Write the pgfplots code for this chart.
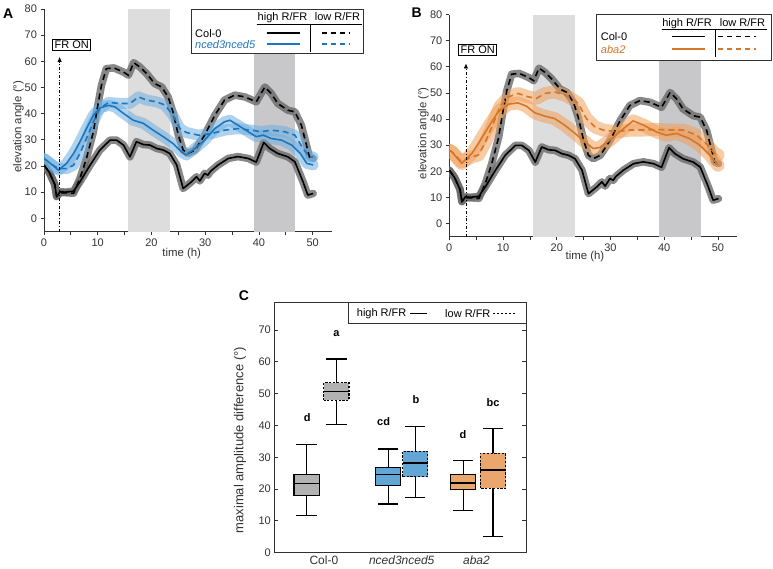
\documentclass[border=0pt]{standalone}
\usepackage{fontspec}
\setmainfont{Liberation Sans}
\usepackage{pgfplots}
\usepackage{pgfplotstable}
\pgfplotsset{compat=1.18}
\usepgfplotslibrary{statistics}
\usetikzlibrary{arrows.meta}
\definecolor{nblue}{RGB}{30,118,188}
\definecolor{nbandc}{RGB}{110,175,225}
\definecolor{aorange}{RGB}{214,118,40}
\definecolor{abandc}{RGB}{240,160,90}
\definecolor{lightband}{RGB}{221,221,221}
\definecolor{darkband}{RGB}{200,199,201}
\definecolor{boxgray}{RGB}{178,178,178}
\definecolor{boxblue}{RGB}{98,166,214}
\definecolor{boxorange}{RGB}{234,166,108}
\definecolor{axgray}{RGB}{50,50,50}

\pgfplotstableread{
t v
0 20.4
1 17.5
2 13
2.35 8.3
3 10.2
4 10
5.5 10.4
6.7 14
8.6 20.4
10.4 26.1
12.3 29.9
13.5 29.9
14.8 28
16 23.5
17.2 29.3
18.5 28.2
19.7 28
21 26.7
22.2 26.1
23.4 24.8
24.7 20.4
25.9 11.4
27.4 13.9
28.4 15.9
29 14.3
29.9 17.2
30.5 16.5
31 18
32.4 20.4
34.3 22.9
36.1 23.6
38 22.9
39.5 21.5
40.9 29
42 26.7
43.5 24.8
45.4 23.5
46.7 21.6
48.2 14
49.1 8.9
50.1 9.5
}\colhigh

\pgfplotstableread{
t v
0 20.4
1 17.5
2 13
2.35 8.5
3 9.8
4 9.8
5.5 9.6
6.7 15.3
7.9 22.9
9.2 33.1
9.8 40.7
10.7 50.9
11.6 57.2
13 57.5
14.8 55.9
15.7 54.7
16.7 59.5
17.8 57.9
19.1 55.3
20.6 51.5
21.9 50.2
23.1 46.4
24 40.7
25 31.8
25.9 26.1
26.8 24.8
28.1 26.1
29.9 31.8
31.8 39.4
33.6 45.2
35.5 47.1
37.4 46.4
39.5 44.5
41.1 50.2
42.3 47.7
43.5 43.9
45.4 41.3
46.7 40.7
47.9 35.6
49.4 23.5
50.1 22.9
}\collow

\pgfplotstableread{
t v
0 22.9
1.5 20.5
2.7 18.4
4.2 21
5.5 24.8
6.7 29.3
7.9 34.3
9.2 39.4
10.4 42.2
12 43.2
13.2 42.6
14.8 40.1
16.6 37.5
18.5 36.3
20.3 33.7
22.2 31.2
24 28.6
25.6 25.4
26.5 24.2
28.1 26.7
29.9 29.9
31.8 34.3
33.6 36.9
34.6 37.5
36.1 35.6
38 33.1
39.5 31.2
40.8 31.8
42.3 30.5
44.2 29.9
46.1 28
47.7 24.8
48.9 21
50.1 20.4
}\ncedhigh

\pgfplotstableread{
t v
0 22.9
1.5 20.5
2.7 19
4.2 19
5.5 20.3
6.7 24.8
7.9 30.5
9.2 36.9
10.4 42
12 44.3
14.1 43.9
16 43.9
17.6 46.4
19.1 45.2
21 44.5
22.5 43.3
24 39.4
25.3 34.3
26.5 32.8
28.7 31.8
31.2 32.4
33.6 33.7
36.1 34.3
38.6 33.7
40.4 33.1
42.3 33.7
44.8 33.1
46.7 31.8
48.2 26.7
49.4 23.5
50.1 23.5
}\ncedlow

\pgfplotstableread{
t v
0 28
0.44 27.5
2.3 23
4.2 26.8
5.4 30.6
7.3 37
9.1 42.8
11 45.7
12.8 46.2
14.4 44.9
15.9 42.4
17.8 41.1
19.6 40.2
21.5 37.6
23.4 34.5
25.2 31.3
26.8 28.7
28 29.1
29.9 31.9
31.7 35.1
34.2 39.3
36.1 37.7
38.5 35.1
40.4 33.8
42.3 34.5
44.7 32.5
46.6 30
48.5 26.2
50 22.3
}\abahigh

\pgfplotstableread{
t v
0 28
0.44 27.5
2.3 23.6
4.2 25.5
5.4 26.2
6.6 30.6
8.2 38.3
9.4 44.7
11 48.5
12.8 49.8
14.7 48.5
16.2 47.9
17.8 49.8
19.6 50.4
21.5 49.2
22.7 47.9
24 46
25.5 40.2
27.1 37
28.6 35.8
31.1 35.1
33.6 35.8
36.1 35.8
38.5 36
41 35.8
43.5 35.8
46 33.9
47.8 30.6
49.4 26.8
50 26.2
}\abalow

\pgfplotsset{
  timeaxis/.style={
    scale only axis, width=288pt,
    xmin=0, xmax=53.6, ymin=-5.1, ymax=80,
    axis x line*=bottom, axis y line*=left,
    axis line style={line width=0.8pt, axgray, -},
    xtick={0,10,...,50}, minor xtick={5,15,...,45},
    ytick={0,10,...,80},
    tick align=outside, major tick length=3.5pt, minor tick length=3.5pt,
    major tick style={line width=0.8pt, axgray},
    minor tick style={line width=0.8pt, axgray},
    tick label style={font=\fontsize{11}{13}\selectfont, text=axgray},
    /pgf/number format/assume math mode=true,
    xlabel={time (h)}, ylabel={elevation angle (°)},
  },
  bandk/.style={line width=7.5pt, black!60, opacity=0.78, line join=round, line cap=round},
  bandb/.style={line width=11pt, nbandc, opacity=0.55, line join=round, line cap=round},
  bando/.style={line width=13pt, abandc, opacity=0.55, line join=round, line cap=round},
  dsh/.style={dash pattern=on 6pt off 4pt},
}

\begin{document}
\begin{tikzpicture}
\path[use as bounding box] (0pt,0pt) rectangle (773pt,-569pt);

% ---------------- Panel A
\begin{axis}[timeaxis, at={(44pt,-231.7pt)}, anchor=south west, height=222.7pt,
  ylabel style={at={(axis description cs:-0.0892,0.471)}, anchor=center, font=\fontsize{11.4}{13}\selectfont, text=axgray},
  xlabel style={at={(axis description cs:0.478,-0.097)}, anchor=center, font=\fontsize{11.4}{13}\selectfont, text=axgray}]
\addplot[draw=none, fill=lightband] coordinates {(15.7,-5.1) (23.4,-5.1) (23.4,80) (15.7,80)} -- cycle;
\addplot[draw=none, fill=darkband] coordinates {(39,-5.1) (46.8,-5.1) (46.8,80) (39,80)} -- cycle;
\addplot[bandk] table[x=t,y=v] {\colhigh};
\addplot[bandk] table[x=t,y=v] {\collow};
\addplot[bandb] table[x=t,y=v] {\ncedhigh};
\addplot[bandb] table[x=t,y=v] {\ncedlow};
\addplot[black, line width=1.6pt, line join=round] table[x=t,y=v] {\colhigh};
\addplot[black, line width=1.6pt, dsh] table[x=t,y=v] {\collow};
\addplot[nblue, line width=1.6pt, line join=round] table[x=t,y=v] {\ncedhigh};
\addplot[nblue, line width=1.6pt, dsh] table[x=t,y=v] {\ncedlow};
\draw[line width=0.7pt, dash dot, -{Latex[length=5pt,width=4.5pt]}] (axis cs:2.9,-5.1) -- (axis cs:2.9,61.7);
\end{axis}

% ---------------- Panel B
\begin{axis}[timeaxis, at={(449.3pt,-236.7pt)}, anchor=south west, height=222pt,
  ylabel style={at={(axis description cs:-0.090,0.466)}, anchor=center, font=\fontsize{11.4}{13}\selectfont, text=axgray},
  xlabel style={at={(axis description cs:0.471,-0.09)}, anchor=center, font=\fontsize{11.4}{13}\selectfont, text=axgray}]
\addplot[draw=none, fill=lightband] coordinates {(15.6,-5.1) (23.4,-5.1) (23.4,80) (15.6,80)} -- cycle;
\addplot[draw=none, fill=darkband] coordinates {(39,-5.1) (46.8,-5.1) (46.8,80) (39,80)} -- cycle;
\addplot[bandk] table[x=t,y=v] {\colhigh};
\addplot[bandk] table[x=t,y=v] {\collow};
\addplot[bando] table[x=t,y=v] {\abahigh};
\addplot[bando] table[x=t,y=v] {\abalow};
\addplot[black, line width=1.6pt, line join=round] table[x=t,y=v] {\colhigh};
\addplot[black, line width=1.6pt, dsh] table[x=t,y=v] {\collow};
\addplot[aorange, line width=1.6pt, line join=round] table[x=t,y=v] {\abahigh};
\addplot[aorange, line width=1.6pt, dsh] table[x=t,y=v] {\abalow};
\draw[line width=0.7pt, dash dot, -{Latex[length=5pt,width=4.5pt]}] (axis cs:3.1,-5.1) -- (axis cs:3.1,61.3);
\end{axis}

% ---------------- Panel C
\begin{axis}[at={(274.3pt,-552.7pt)}, anchor=south west,
  scale only axis, width=251.7pt, height=250pt,
  xmin=0.4, xmax=3.6, ymin=0, ymax=78.6,
  boxplot/draw direction=y,
  xtick={1.03,2.02,2.97}, xticklabels={Col-0,\textit{nced3nced5},\textit{aba2}},
  x tick style={draw=none},
  ytick={0,10,...,70}, ytick pos=both, tick align=inside,
  major tick length=4pt,
  y tick style={line width=0.8pt, axgray},
  axis line style={line width=0.8pt, axgray},
  y tick label style={font=\fontsize{11}{13}\selectfont, text=axgray},
  x tick label style={font=\fontsize{12}{14}\selectfont, text=axgray},
  /pgf/number format/assume math mode=true,
  ylabel={maximal amplitude difference (°)},
  ylabel style={at={(axis description cs:-0.136,0.45)}, anchor=center, font=\fontsize{13}{15}\selectfont, text=axgray},
  clip=false]
\addplot[draw=black, line width=1.1pt, fill=boxgray, boxplot prepared={draw position=0.81, median=21.8, upper quartile=24.6, lower quartile=18.1, upper whisker=34.1, lower whisker=11.8, box extend=0.32}] coordinates {};
\addplot[draw=black, line width=1.1pt, fill=boxgray, boxplot prepared={draw position=1.19, median=50.8, upper quartile=53.4, lower quartile=47.9, upper whisker=60.9, lower whisker=40.4, box extend=0.32, every box/.style={dash pattern=on 2.2pt off 1.6pt}}] coordinates {};
\addplot[draw=black, line width=1.1pt, fill=boxblue, boxplot prepared={draw position=1.85, median=24.6, upper quartile=26.7, lower quartile=21.1, upper whisker=32.6, lower whisker=15.3, box extend=0.32}] coordinates {};
\addplot[draw=black, line width=1.1pt, fill=boxblue, boxplot prepared={draw position=2.19, median=28.2, upper quartile=31.9, lower quartile=23.9, upper whisker=39.6, lower whisker=17.3, box extend=0.32, every box/.style={dash pattern=on 2.2pt off 1.6pt}}] coordinates {};
\addplot[draw=black, line width=1.1pt, fill=boxorange, boxplot prepared={draw position=2.8, median=21.9, upper quartile=24.7, lower quartile=19.9, upper whisker=28.9, lower whisker=13.4, box extend=0.32}] coordinates {};
\addplot[draw=black, line width=1.1pt, fill=boxorange, boxplot prepared={draw position=3.18, median=26.0, upper quartile=31.3, lower quartile=20.2, upper whisker=39.1, lower whisker=5.2, box extend=0.32, every box/.style={dash pattern=on 2.2pt off 1.6pt}}] coordinates {};
\begin{scope}[font=\bfseries\fontsize{11}{13}\selectfont]
\node at (axis cs:1.19,69) {a};
\node at (axis cs:0.82,42.4) {d};
\node at (axis cs:1.79,41.2) {cd};
\node at (axis cs:2.2,48.2) {b};
\node at (axis cs:2.8,37) {d};
\node at (axis cs:3.18,47.3) {bc};
\end{scope}
\end{axis}

% ---------------- Legends and annotations
\begin{scope}[font=\fontsize{11}{13}\selectfont]
% Legend A
\draw[line width=0.8pt, axgray, fill=white] (191.7pt,-9.3pt) rectangle (363.3pt,-53.3pt);
\node[anchor=base, inner sep=0pt] at (282.5pt,-21pt) {high R/FR};
\node[anchor=base, inner sep=0pt] at (337.5pt,-21pt) {low R/FR};
\draw[line width=0.6pt] (256.7pt,-24pt) -- (361.7pt,-24pt);
\draw[line width=0.6pt] (310pt,-24pt) -- (310pt,-51.7pt);
\node[anchor=west, inner sep=0pt] at (195pt,-33.3pt) {Col-0};
\node[anchor=west, inner sep=0pt, text=nblue] at (195pt,-44.3pt) {\itshape nced3nced5};
\draw[line width=1.6pt] (266.7pt,-33.3pt) -- (300pt,-33.3pt);
\draw[line width=1.6pt, dash pattern=on 5pt off 4pt] (321.7pt,-33.3pt) -- (350pt,-33.3pt);
\draw[line width=1.6pt, nblue] (266.7pt,-44.3pt) -- (300pt,-44.3pt);
\draw[line width=1.6pt, nblue, dash pattern=on 5pt off 4pt] (321.7pt,-44.3pt) -- (350pt,-44.3pt);
% Legend B
\draw[line width=0.8pt, axgray, fill=white] (596.7pt,-14.7pt) rectangle (771.7pt,-60.7pt);
\node[anchor=base, inner sep=0pt] at (687pt,-26.5pt) {high R/FR};
\node[anchor=base, inner sep=0pt] at (742.5pt,-26.5pt) {low R/FR};
\draw[line width=0.6pt] (661.7pt,-29.3pt) -- (767.3pt,-29.3pt);
\draw[line width=0.6pt] (715pt,-29.3pt) -- (715pt,-57.3pt);
\node[anchor=west, inner sep=0pt] at (600.7pt,-36.7pt) {Col-0};
\node[anchor=west, inner sep=0pt, text=aorange] at (600.7pt,-49.3pt) {\itshape aba2};
\draw[line width=1.6pt] (671.7pt,-36.7pt) -- (705pt,-36.7pt);
\draw[line width=1.6pt, dash pattern=on 5pt off 4pt] (718.3pt,-36.7pt) -- (756pt,-36.7pt);
\draw[line width=1.6pt, aorange] (671.7pt,-49.3pt) -- (705pt,-49.3pt);
\draw[line width=1.6pt, aorange, dash pattern=on 5pt off 4pt] (718.3pt,-49.3pt) -- (756pt,-49.3pt);
% Legend C
\draw[line width=0.8pt, axgray, fill=white] (348pt,-302.7pt) rectangle (526pt,-323.3pt);
\node[anchor=west, inner sep=0pt] at (356.7pt,-313.3pt) {high R/FR};
\draw[line width=1.4pt] (410pt,-313.3pt) -- (426.7pt,-313.3pt);
\node[anchor=west, inner sep=0pt] at (445pt,-313.3pt) {low R/FR};
\draw[line width=1.4pt, dash pattern=on 1.6pt off 2.4pt] (493.3pt,-313.3pt) -- (515pt,-313.3pt);
% FR ON boxes
\node[draw, line width=0.8pt, fill=white, inner xsep=2pt, inner ysep=1.5pt] at (71.7pt,-44.7pt) {FR ON};
\node[draw, line width=0.8pt, fill=white, inner xsep=2pt, inner ysep=1.5pt] at (477.7pt,-50pt) {FR ON};
\end{scope}
% Panel letters
\node[font=\bfseries\fontsize{14}{16}\selectfont] at (8.3pt,-13.3pt) {A};
\node[font=\bfseries\fontsize{14}{16}\selectfont] at (416.7pt,-13pt) {B};
\node[font=\bfseries\fontsize{14}{16}\selectfont] at (244pt,-295.3pt) {C};
\end{tikzpicture}
\end{document}
